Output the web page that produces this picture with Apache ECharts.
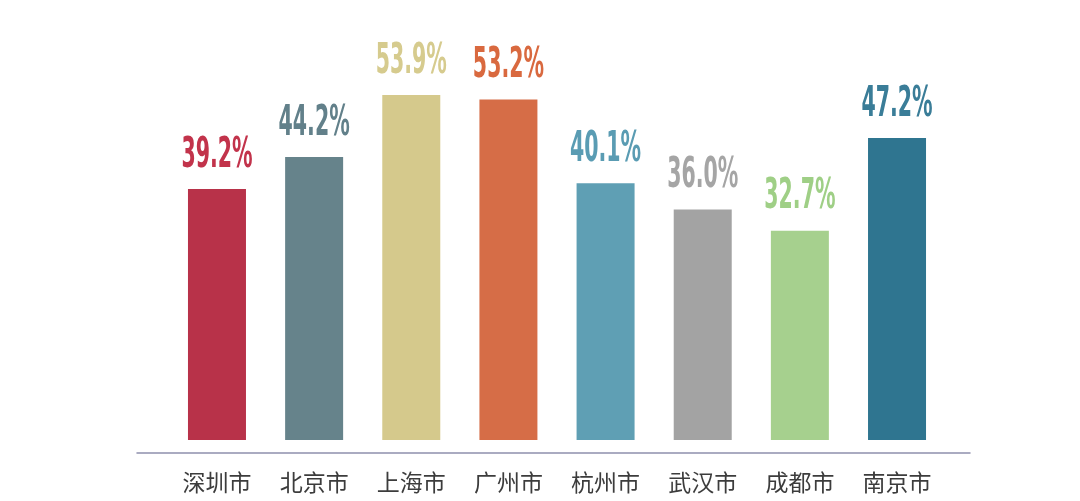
<!DOCTYPE html>
<html>
<head>
<meta charset="utf-8">
<script src="https://cdn.jsdelivr.net/npm/echarts@6/dist/echarts.min.js"></script>
<style>html,body{margin:0;padding:0;background:#fff;}#c{width:1080px;height:501px;}</style>
</head>
<body>
<div id="c"></div>
<script>
const categories = ['深圳市', '北京市', '上海市', '广州市', '杭州市', '武汉市', '成都市', '南京市'];
const values = [39.2, 44.2, 53.9, 53.2, 40.1, 36.0, 32.7, 47.2];
const colors = ['#b83249', '#66838b', '#d5c98c', '#d66d47', '#5f9fb4', '#a3a3a3', '#a6d08e', '#2f7590'];
const labelColors = ['#c2334b', '#62808a', '#d6cb8e', '#d9693f', '#5a9cb3', '#a5a5a5', '#9fcf86', '#3a7d98'];

const chart = echarts.init(document.getElementById('c'));
chart.setOption({
  backgroundColor: '#ffffff',
  animation: false,
  grid: [
    { left: 168.4, right: 134.4, top: 56, bottom: 61 },
    { left: 137, right: 110, top: 452, bottom: 48 }
  ],
  xAxis: [
    {
      type: 'category', gridIndex: 0, data: categories,
      axisLine: { show: false }, axisTick: { show: false },
      axisLabel: {
        margin: 31, fontSize: 23, color: '#3c3c3c',
        fontFamily: '"Noto Sans CJK SC", sans-serif'
      }
    },
    {
      type: 'category', gridIndex: 1, data: [''],
      axisLine: { show: true, lineStyle: { color: '#8e90ad', width: 1.5 } },
      axisTick: { show: false }, axisLabel: { show: false }
    }
  ],
  yAxis: [
    { type: 'value', gridIndex: 0, min: 0, max: 60, show: false, splitLine: { show: false } },
    { type: 'value', gridIndex: 1, show: false, splitLine: { show: false } }
  ],
  series: [
    {
      type: 'bar', xAxisIndex: 0, yAxisIndex: 0, barWidth: 58,
      data: values.map((v, i) => ({ value: v, itemStyle: { color: colors[i] } }))
    },
    {
      type: 'custom', xAxisIndex: 0, yAxisIndex: 0, z: 5,
      data: values.map((v, i) => [i, v]),
      renderItem: function (params, api) {
        const i = api.value(0);
        const v = api.value(1);
        const p = api.coord([i, v]);
        return {
          type: 'text', x: p[0], y: p[1] - 12, scaleX: 0.53,
          style: {
            text: v.toFixed(1) + '%',
            font: 'bold 43px "DejaVu Sans Condensed", sans-serif',
            fill: labelColors[i], align: 'center', verticalAlign: 'bottom'
          }
        };
      }
    }
  ]
});
</script>
</body>
</html>
